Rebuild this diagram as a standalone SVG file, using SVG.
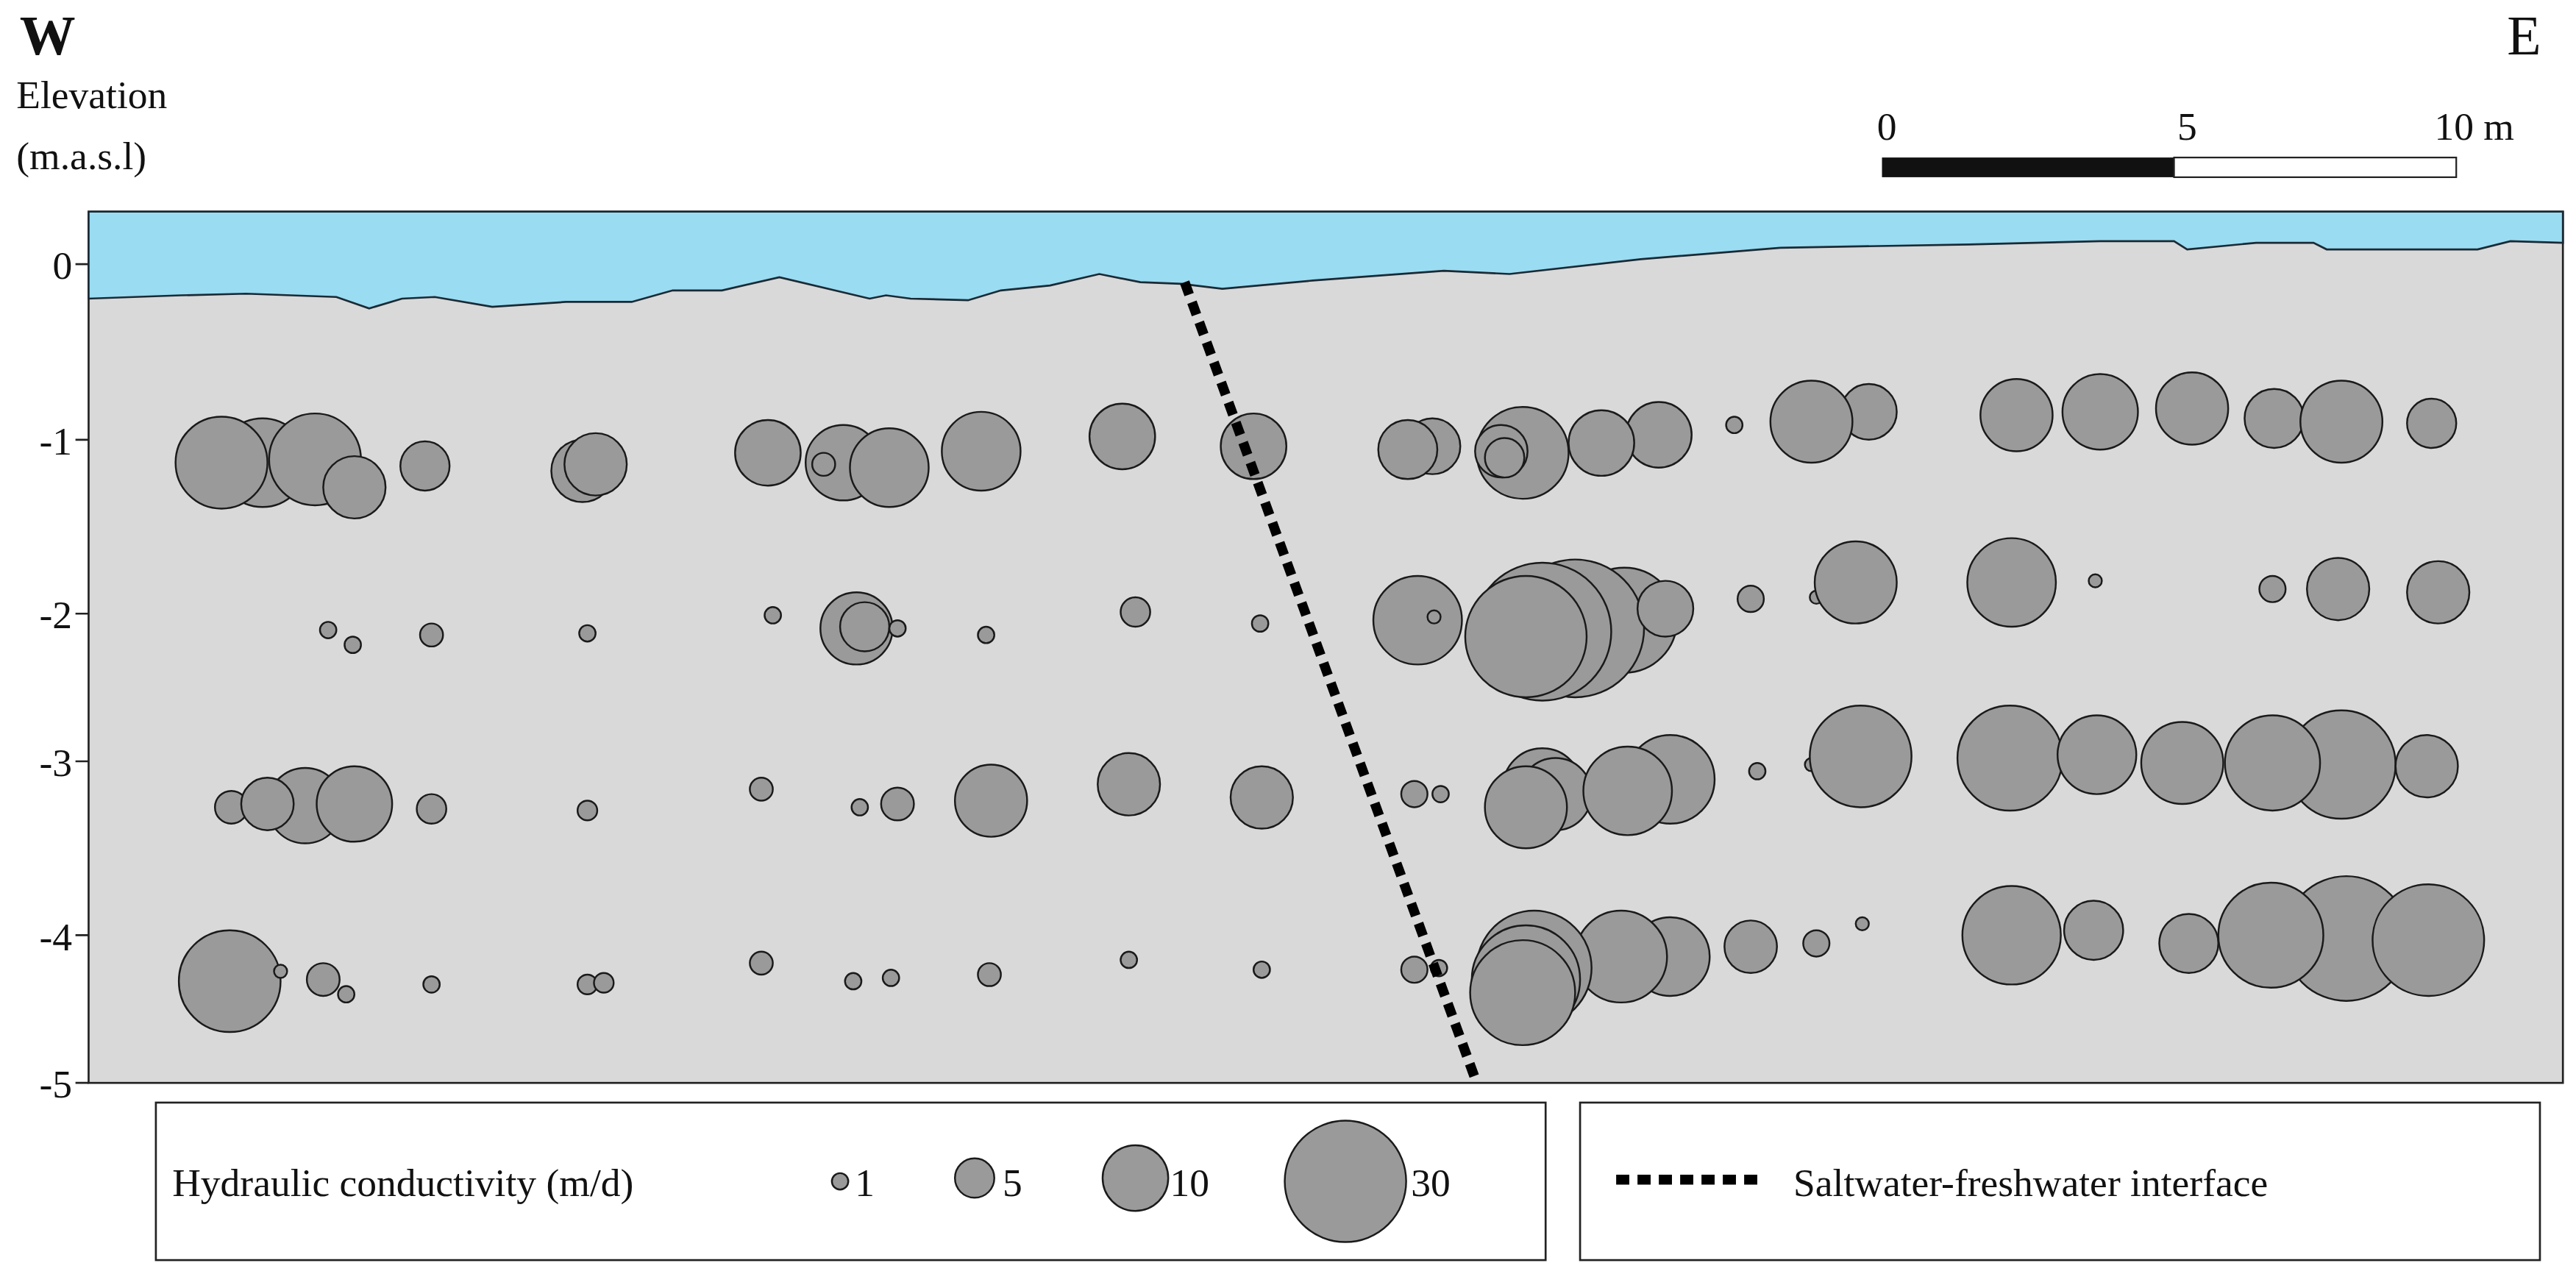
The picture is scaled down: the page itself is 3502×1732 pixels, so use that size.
<svg xmlns="http://www.w3.org/2000/svg" width="3502" height="1732" viewBox="0 0 3502 1732">
<style>
.c{fill:#9a9a9a;stroke:#1a1a1a;stroke-width:1.1}
.t{font-family:"Liberation Serif",serif;fill:#111}
.f{fill:none;stroke:#000;stroke-width:6;stroke-dasharray:8 5}
</style>
<rect width="3502" height="1732" fill="#fff"/>
<g transform="scale(2.2306)">
<g id="section">
<rect x="54" y="129" width="1508" height="531" fill="#d9d9d9" stroke="#222" stroke-width="1.2"/>
<path d="M54,129 H1562 V148 L1530,147 1510,152 1418,152 1410,148 1375,148 1333,152 1325,147 1280,147 1200,149 1085,151 1000,158 920,167 880,165 800,171 745,176 720,173 695,172 670,167 640,174 610,177 590,183 555,182 540,180 530,182 475,169 440,177 410,177 385,184 345,184 300,187 265,181 245,182 225,188 205,181 150,179 110,180 54,182 Z" fill="#9adcf2" stroke="#1a2a35" stroke-width="1.2"/>
</g>
<g id="axis" class="t" font-size="24" text-anchor="end">
<text x="44" y="170">0</text><text x="44" y="277">-1</text><text x="44" y="383">-2</text><text x="44" y="473">-3</text><text x="44" y="579">-4</text><text x="44" y="669">-5</text>
<path d="M46,161H54M46,268H54M46,374H54M46,464H54M46,570H54M46,660H54" stroke="#222" stroke-width="1.2"/>
</g>
<g id="labels" class="t">
<text x="12" y="33" font-size="34" font-weight="bold">W</text>
<text x="1528" y="33" font-size="34">E</text>
<text x="10" y="66" font-size="24">Elevation</text>
<text x="10" y="103" font-size="24">(m.a.s.l)</text>
</g>
<g id="scale">
<rect x="1147" y="96" width="178" height="12" fill="#111"/>
<rect x="1325" y="96" width="172" height="12" fill="#fff" stroke="#222" stroke-width="1"/>
<g class="t" font-size="24" text-anchor="middle"><text x="1150" y="85">0</text><text x="1333" y="85">5</text><text x="1508" y="85">10 m</text></g>
</g>
<g id="row1">
<circle class="c" cx="160" cy="282" r="27"/><circle class="c" cx="135" cy="282" r="28"/><circle class="c" cx="192" cy="280" r="28"/><circle class="c" cx="216" cy="297" r="19"/><circle class="c" cx="259" cy="284" r="15"/>
<circle class="c" cx="355" cy="287" r="19"/><circle class="c" cx="363" cy="283" r="19"/><circle class="c" cx="468" cy="276" r="20"/>
<circle class="c" cx="514" cy="282" r="23"/><circle class="c" cx="502" cy="283" r="7"/><circle class="c" cx="542" cy="285" r="24"/><circle class="c" cx="598" cy="275" r="24"/><circle class="c" cx="684" cy="266" r="20"/><circle class="c" cx="764" cy="272" r="20"/>
<circle class="c" cx="873" cy="272" r="17"/><circle class="c" cx="858" cy="274" r="18"/><circle class="c" cx="928" cy="276" r="28"/><circle class="c" cx="915" cy="275" r="16"/><circle class="c" cx="917" cy="279" r="12"/>
<circle class="c" cx="1011" cy="265" r="20"/><circle class="c" cx="976" cy="270" r="20"/><circle class="c" cx="1057" cy="259" r="5"/><circle class="c" cx="1139" cy="251" r="17"/><circle class="c" cx="1104" cy="257" r="25"/>
<circle class="c" cx="1229" cy="253" r="22"/><circle class="c" cx="1280" cy="251" r="23"/><circle class="c" cx="1336" cy="249" r="22"/><circle class="c" cx="1386" cy="255" r="18"/><circle class="c" cx="1427" cy="257" r="25"/><circle class="c" cx="1482" cy="258" r="15"/>
</g>
<g id="row2">
<circle class="c" cx="200" cy="384" r="5"/><circle class="c" cx="215" cy="393" r="5"/><circle class="c" cx="263" cy="387" r="7"/><circle class="c" cx="358" cy="386" r="5"/><circle class="c" cx="471" cy="375" r="5"/>
<circle class="c" cx="522" cy="383" r="22"/><circle class="c" cx="527" cy="382" r="15"/><circle class="c" cx="547" cy="383" r="5"/><circle class="c" cx="601" cy="387" r="5"/><circle class="c" cx="692" cy="373" r="9"/><circle class="c" cx="768" cy="380" r="5"/>
<circle class="c" cx="864" cy="378" r="27"/><circle class="c" cx="874" cy="376" r="4"/>
<circle class="c" cx="990" cy="378" r="32"/><circle class="c" cx="960" cy="383" r="42"/><circle class="c" cx="940" cy="385" r="42"/><circle class="c" cx="930" cy="388" r="37"/><circle class="c" cx="1015" cy="371" r="17"/>
<circle class="c" cx="1067" cy="365" r="8"/><circle class="c" cx="1107" cy="364" r="4"/><circle class="c" cx="1131" cy="355" r="25"/><circle class="c" cx="1226" cy="355" r="27"/><circle class="c" cx="1277" cy="354" r="4"/><circle class="c" cx="1385" cy="359" r="8"/><circle class="c" cx="1425" cy="359" r="19"/><circle class="c" cx="1486" cy="361" r="19"/>
</g>
<g id="row3">
<circle class="c" cx="141" cy="492" r="10"/><circle class="c" cx="186" cy="491" r="23"/><circle class="c" cx="163" cy="490" r="16"/><circle class="c" cx="216" cy="490" r="23"/><circle class="c" cx="263" cy="493" r="9"/><circle class="c" cx="358" cy="494" r="6"/>
<circle class="c" cx="464" cy="481" r="7"/><circle class="c" cx="524" cy="492" r="5"/><circle class="c" cx="547" cy="490" r="10"/><circle class="c" cx="604" cy="488" r="22"/><circle class="c" cx="688" cy="478" r="19"/><circle class="c" cx="769" cy="486" r="19"/>
<circle class="c" cx="862" cy="484" r="8"/><circle class="c" cx="878" cy="484" r="5"/>
<circle class="c" cx="940" cy="480" r="24"/><circle class="c" cx="948" cy="484" r="22"/><circle class="c" cx="930" cy="492" r="25"/><circle class="c" cx="1018" cy="475" r="27"/><circle class="c" cx="992" cy="482" r="27"/>
<circle class="c" cx="1071" cy="470" r="5"/><circle class="c" cx="1104" cy="466" r="4"/><circle class="c" cx="1134" cy="461" r="31"/><circle class="c" cx="1225" cy="462" r="32"/><circle class="c" cx="1278" cy="460" r="24"/><circle class="c" cx="1330" cy="465" r="25"/><circle class="c" cx="1427" cy="466" r="33"/><circle class="c" cx="1385" cy="465" r="29"/><circle class="c" cx="1479" cy="467" r="19"/>
</g>
<g id="row4">
<circle class="c" cx="140" cy="598" r="31"/><circle class="c" cx="171" cy="592" r="4"/><circle class="c" cx="197" cy="597" r="10"/><circle class="c" cx="211" cy="606" r="5"/><circle class="c" cx="263" cy="600" r="5"/><circle class="c" cx="358" cy="600" r="6"/><circle class="c" cx="368" cy="599" r="6"/>
<circle class="c" cx="464" cy="587" r="7"/><circle class="c" cx="520" cy="598" r="5"/><circle class="c" cx="543" cy="596" r="5"/><circle class="c" cx="603" cy="594" r="7"/><circle class="c" cx="688" cy="585" r="5"/><circle class="c" cx="769" cy="591" r="5"/><circle class="c" cx="862" cy="591" r="8"/><circle class="c" cx="877" cy="590" r="5"/>
<circle class="c" cx="1018" cy="583" r="24"/><circle class="c" cx="988" cy="583" r="28"/><circle class="c" cx="935" cy="590" r="35"/><circle class="c" cx="930" cy="597" r="33"/><circle class="c" cx="928" cy="605" r="32"/>
<circle class="c" cx="1067" cy="577" r="16"/><circle class="c" cx="1107" cy="575" r="8"/><circle class="c" cx="1135" cy="563" r="4"/><circle class="c" cx="1226" cy="570" r="30"/><circle class="c" cx="1276" cy="567" r="18"/><circle class="c" cx="1334" cy="575" r="18"/><circle class="c" cx="1430" cy="572" r="38"/><circle class="c" cx="1384" cy="570" r="32"/><circle class="c" cx="1480" cy="573" r="34"/>
</g>
<g id="connectors"><line class="f" x1="722" y1="172" x2="900" y2="660"/></g>
<g id="legend-k">
<rect x="95" y="672" width="847" height="96" fill="#fff" stroke="#222" stroke-width="1.2"/>
<text class="t" x="105" y="729" font-size="24">Hydraulic conductivity (m/d)</text>
<circle class="c" cx="512" cy="720" r="5"/><text class="t" x="521" y="729" font-size="24">1</text>
<circle class="c" cx="594" cy="718" r="12"/><text class="t" x="611" y="729" font-size="24">5</text>
<circle class="c" cx="692" cy="718" r="20"/><text class="t" x="713" y="729" font-size="24">10</text>
<circle class="c" cx="820" cy="720" r="37"/><text class="t" x="860" y="729" font-size="24">30</text>
</g>
<g id="legend-i">
<rect x="963" y="672" width="585" height="96" fill="#fff" stroke="#222" stroke-width="1.2"/>
<line class="f" x1="985" y1="719" x2="1072" y2="719"/>
<text class="t" x="1093" y="729" font-size="24">Saltwater-freshwater interface</text>
</g>
</g>
</svg>
